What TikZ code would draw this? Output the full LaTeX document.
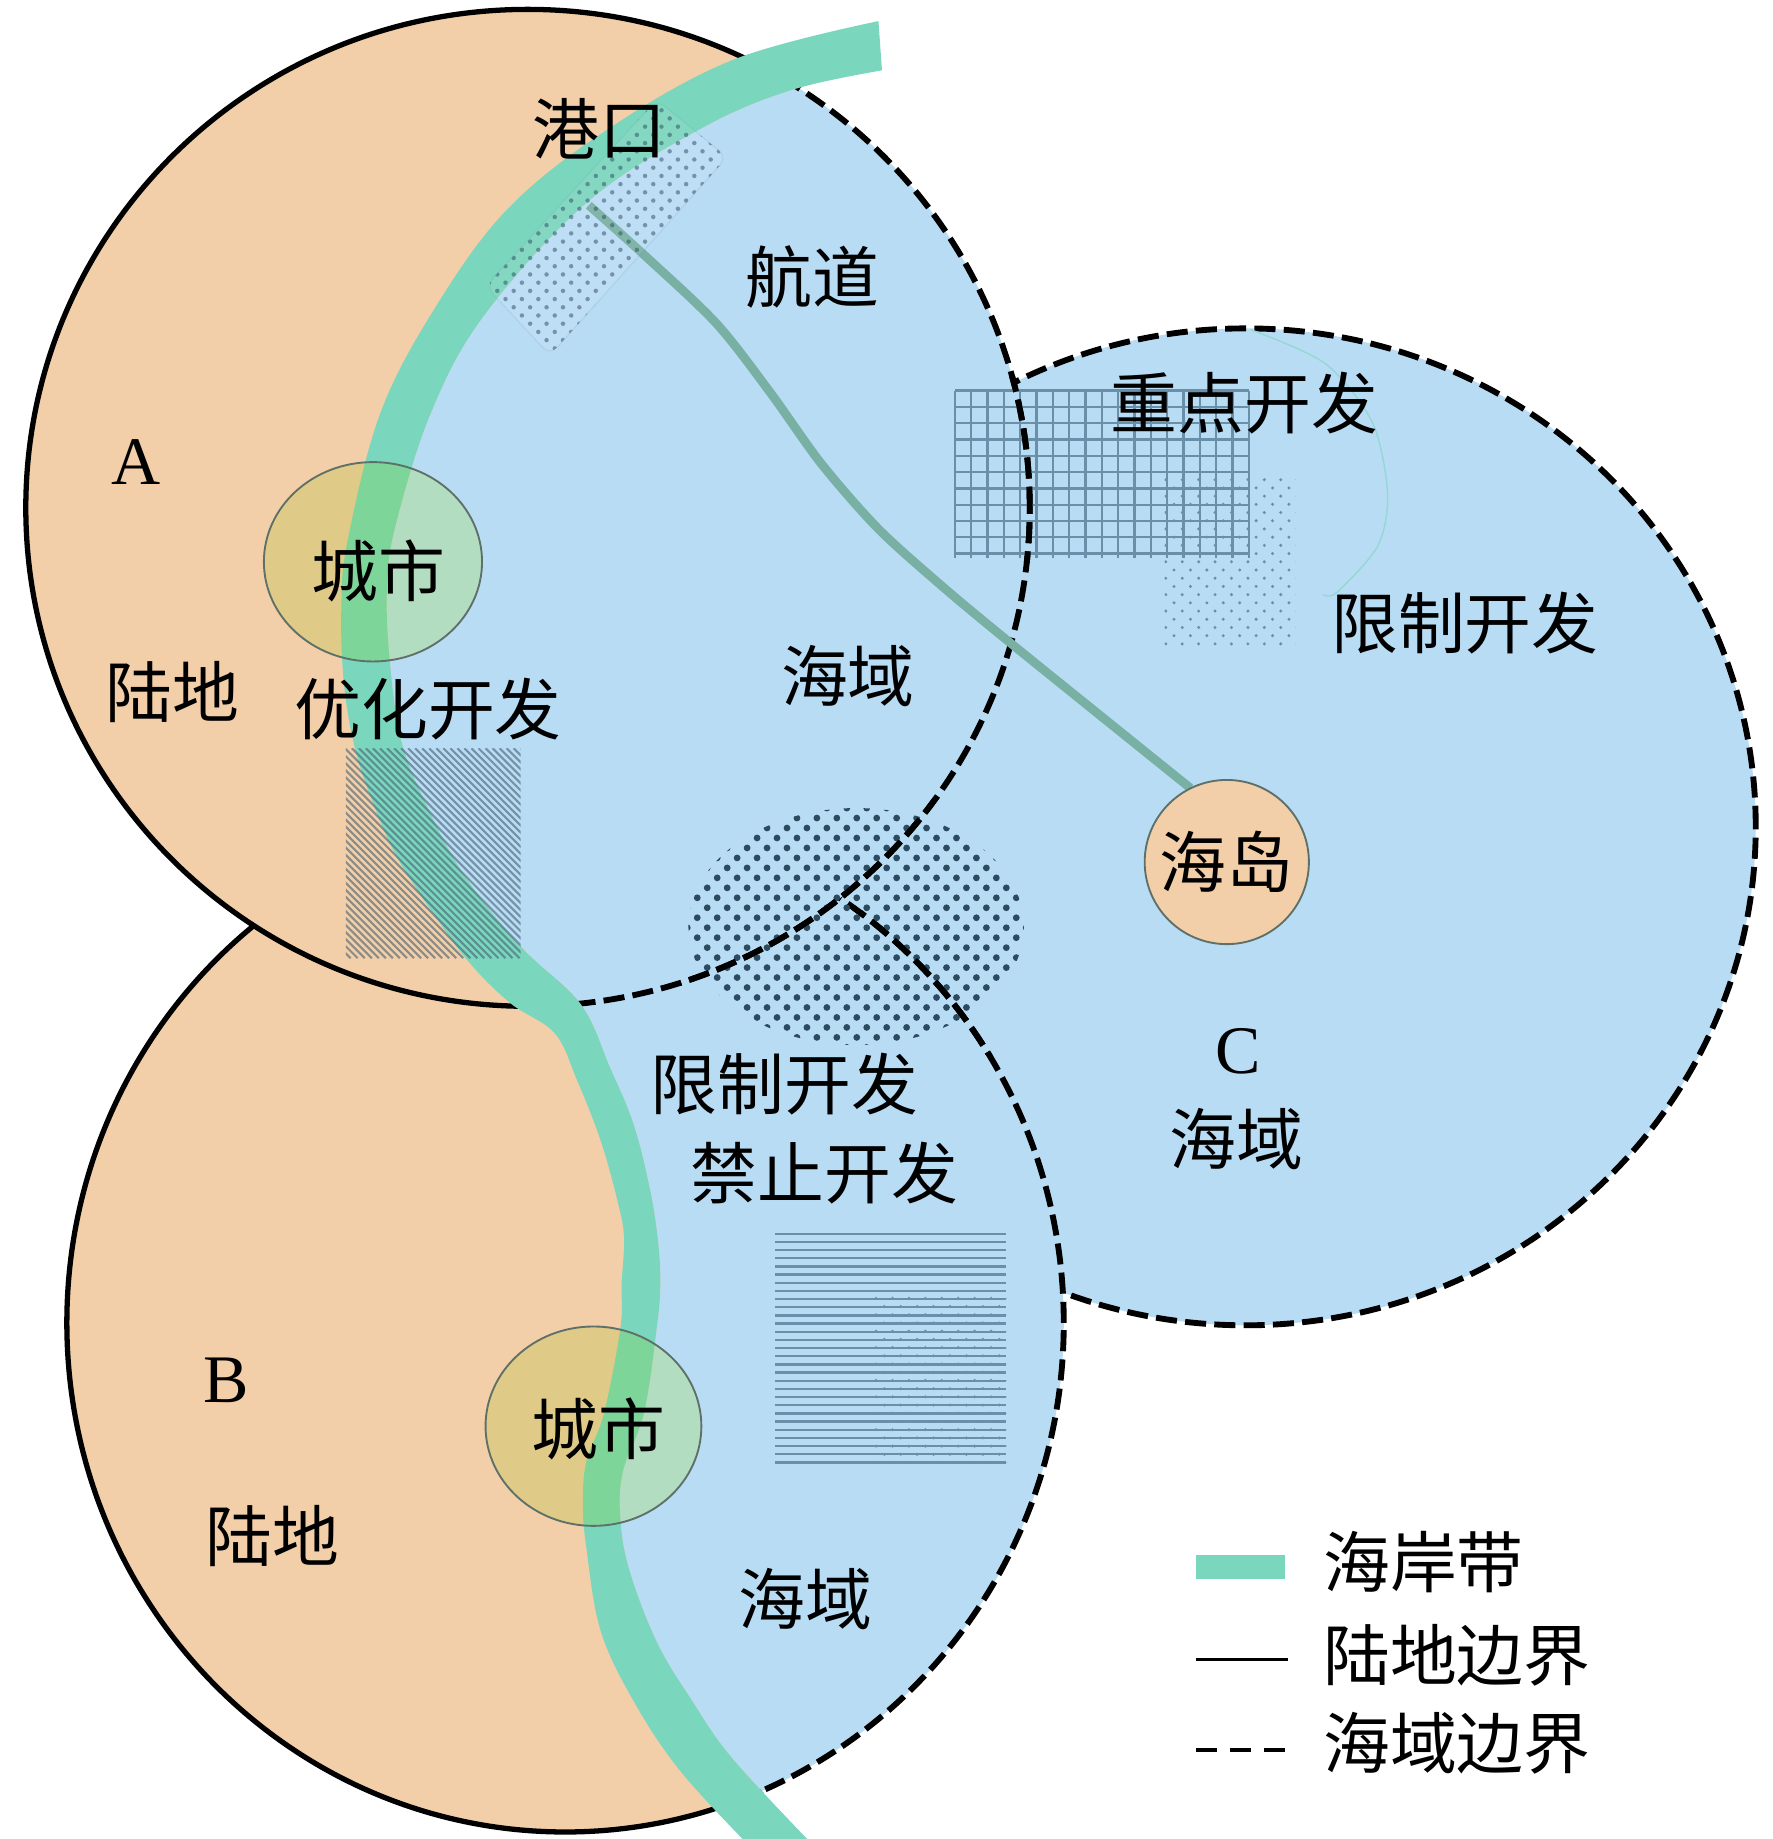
\documentclass[tikz,border=0pt]{standalone}
\usepackage{fontspec}
\setmainfont{Liberation Serif}
\newfontfamily\cjk{Noto Sans CJK SC}
\definecolor{peach}{HTML}{F2CFA8}
\definecolor{seablue}{HTML}{B9DCF5}
\definecolor{coastc}{HTML}{7BD6BE}
\definecolor{chan}{HTML}{78B0A4}
\definecolor{gridc}{HTML}{6A8FA8}
\definecolor{darkdot}{HTML}{2C4A60}
\definecolor{olive}{HTML}{E0CA88}
\definecolor{palegreen}{HTML}{B3DDC1}
\definecolor{midgreen}{HTML}{7DD59A}
\definecolor{cityline}{HTML}{5E7068}
\def\ringA{(450,433) ellipse [x radius=428pt,y radius=425pt]}
\def\ringB{(482,1128) ellipse [x radius=425pt,y radius=434pt]}
\def\ringC{(1062,705) ellipse [x radius=435pt,y radius=425pt]}
% sea-side edge of the coast band
\def\coastpath{plot[smooth,tension=.6] coordinates {(752,60) (674,77) (597,110) (500,173) (412,270) (367,353) (337,449) (330,500) (332,560) (342,631) (363,685) (395,745) (444,807) (495,856) (520,910) (540,958) (554,1013) (561,1058) (563,1095) (560,1132) (549,1205) (531,1255) (529,1296) (537,1340) (560,1400) (590,1450) (625,1500) (695,1575)}}
\def\bandshape{plot[smooth,tension=.6] coordinates {(749,18) (625,51) (517,111) (432,179) (370,264) (324,353) (296,463) (291,520) (293,580) (301,631) (314,674) (338,730) (375,787) (403,824) (436,856) (473,881) (492,921) (512,972) (526,1022) (532,1054) (530,1095) (529,1132) (515,1205) (500,1246) (497,1282) (500,1320) (512,1390) (540,1450) (580,1510) (640,1575)} -- plot[smooth,tension=.6] coordinates {(695,1575) (625,1500) (590,1450) (560,1400) (537,1340) (529,1296) (531,1255) (549,1205) (560,1132) (563,1095) (561,1058) (554,1013) (540,958) (520,910) (495,856) (444,807) (395,745) (363,685) (342,631) (332,560) (330,500) (337,449) (367,353) (412,270) (500,173) (597,110) (674,77) (752,60)} -- cycle}
\def\landside{\coastpath -- (695,1700) -- (-100,1700) -- (-100,-100) -- (752,-100) -- cycle}
\def\seaside{\coastpath -- (695,1700) -- (1700,1700) -- (1700,-100) -- (752,-100) -- cycle}
\newcommand\regionfill[1]{%
 \fill[seablue] #1;
 \begin{scope}\clip \landside; \fill[peach] #1; \draw[landedge] #1;\end{scope}
 \begin{scope}\clip \seaside; \draw[seaedge] #1;\end{scope}
}
\newcommand\cityfill[1]{%
 \begin{scope}
  \clip #1;
  \fill[olive] #1;
  \fill[palegreen] \seaside;
  \fill[midgreen] \bandshape;
 \end{scope}
 \draw[cityedge] #1;
}
% staggered field of small marks: x0, y0, columns, rows, dx, dy, radius, style
\newcommand\dotfield[8]{%
 \foreach \r in {0,...,#4}{
  \foreach \c in {0,...,#3}{
   \pgfmathsetmacro\px{#1+\c*#5+mod(\r,2)*#5/2}
   \pgfmathsetmacro\py{#2+\r*#6}
   \fill[#8] (\px,\py) circle (#7pt);
  }}
}
\tikzset{
 landedge/.style={draw=black,line width=4.5pt},
 seaedge/.style={draw=black,line width=5pt,dash pattern=on 18pt off 7pt},
 cityedge/.style={draw=cityline,line width=1.6pt},
 lab/.style={font=\cjk\fontsize{57}{60}\selectfont,text=black,inner sep=0pt},
 lat/.style={font=\fontsize{58}{60}\selectfont,text=black,inner sep=0pt},
 patline/.style={draw=gridc,line width=2pt}
}
\begin{document}
\begin{tikzpicture}[x=1pt,y=-1pt]
\useasboundingbox (0,0) rectangle (1511,1568);
\fill[white] (0,0) rectangle (1511,1568);
\begin{scope}
 \clip (0,0) rectangle (1511,1568);
 % regions, later ones hiding the earlier ones' borders
 \fill[seablue] \ringC;
 \draw[seaedge] \ringC;
 \regionfill{\ringB}
 \regionfill{\ringA}
 % coast band
 \fill[coastc] \bandshape;
 % cities
 \cityfill{(318,479) ellipse [x radius=93pt,y radius=85pt]}
 \cityfill{(506,1216) ellipse [x radius=92pt,y radius=85pt]}
 % channel
 \draw[chan,line width=7.5pt] plot[smooth] coordinates {(502,175) (551,219) (611,276) (657,335) (700,395) (748,450) (800,497) (860,547) (1015,672)};
 % stray thin curve
 \draw[coastc!60!seablue,line width=1.2pt] plot[smooth] coordinates {(1066,281) (1130,310) (1170,360) (1183,420) (1175,465) (1140,505) (1128,507)};
 % island
 \node[circle,draw=cityline,fill=peach,line width=1.6pt,minimum size=140pt,inner sep=0pt] (island) at (1046,735) {};
 % port pattern
 \begin{scope}[rounded corners=9pt]
  \fill[white,opacity=.07] (414,244) -- (469,303) -- (620,134) -- (560,85) -- cycle;
  \draw[gridc,opacity=.15,line width=1pt] (414,244) -- (469,303) -- (620,134) -- (560,85) -- cycle;
  \clip (414,244) -- (469,303) -- (620,134) -- (560,85) -- cycle;
  \dotfield{410}{80}{16}{32}{14}{7}{1.9}{darkdot,opacity=.5}
 \end{scope}
 % grid pattern
 \foreach \i in {0,...,18}{\draw[patline] ({814+\i*13.93},333) -- ({814+\i*13.93},476);}
 \foreach \i in {0,...,10}{\draw[patline] (814,{333+\i*13.9}) -- (1065,{333+\i*13.9});}
 % restricted dots, upper right
 \begin{scope}
  \clip (993,405) rectangle (1105,552);
  \dotfield{994}{409}{8}{20}{14}{7}{1.4}{gridc}
 \end{scope}
 % hatch rectangle
 \begin{scope}
  \clip (295,638) rectangle (444,817);
  \foreach \i in {0,...,56}{
   \draw[draw=black!30!gridc,line width=1.8pt,opacity=.62] ({120+\i*6},638) -- ({120+\i*6+179},817);
  }
 \end{scope}
 % forbidden ellipse
 \begin{scope}
  \clip (730,790) ellipse [x radius=143pt,y radius=101pt];
  \dotfield{586}{689}{17}{24}{17}{8.5}{2.9}{darkdot}
 \end{scope}
 % horizontal lines
 \foreach \i in {0,...,28}{\draw[patline] (661,{1052+\i*6.96}) -- (858,{1052+\i*6.96});}
 \begin{scope}
  \clip (746,1104) rectangle (858,1248);
  \dotfield{747}{1107}{8}{20}{14}{7}{1.4}{gridc}
 \end{scope}
 % borders again above the patterns they cross
 \begin{scope}
  \clip (805,320) rectangle (900,480) (580,680) rectangle (880,900);
  \draw[seaedge] \ringA;
 \end{scope}
 \begin{scope}
  \clip (712,776) rectangle (880,900);
  \draw[seaedge] \ringB;
 \end{scope}
\end{scope}
% labels
\node[lab] (port) at (511,110) {港口};
\node[lab] (lane) at (693,236) {航道};
\node[lab] (key) at (1061,344) {重点开发};
\node[lab] (limitc) at (1249,531) {限制开发};
\node[lab] (seaa) at (723,576) {海域};
\node[lat] (labela) at (116,394) {A};
\node[lab] (citya) at (323,487) {城市};
\node[lab] (landa) at (147,590) {陆地};
\node[lab] (opt) at (365,605) {优化开发};
\node[lab] (isle) at (1046,735) {海岛};
\node[lab] (limitb) at (669,924) {限制开发};
\node[lab] (forbid) at (703,1000) {禁止开发};
\node[lat] (labelc) at (1056,896) {C};
\node[lab] (seac) at (1054,971) {海域};
\node[lat] (labelb) at (193,1177) {B};
\node[lab] (landb) at (232,1310) {陆地};
\node[lab] (cityb) at (510,1218) {城市};
\node[lab] (seab) at (687,1363) {海域};
% legend
\coordinate (k1a) at (1020,1336); \coordinate (k1b) at (1096,1336);
\coordinate (k2a) at (1020,1415); \coordinate (k2b) at (1098,1415);
\coordinate (k3a) at (1020,1492); \coordinate (k3b) at (1098,1492);
\draw[coastc,line width=21pt] (k1a) -- (k1b);
\draw[black,line width=3pt] (k2a) -- (k2b);
\draw[black,line width=3pt,dash pattern=on 18pt off 11pt] (k3a) -- (k3b);
\node[lab,anchor=west] (t1) at (1128,1332) {海岸带};
\node[lab,anchor=west] (t2) at (1128,1411) {陆地边界};
\node[lab,anchor=west] (t3) at (1128,1486) {海域边界};
\end{tikzpicture}
\end{document}
